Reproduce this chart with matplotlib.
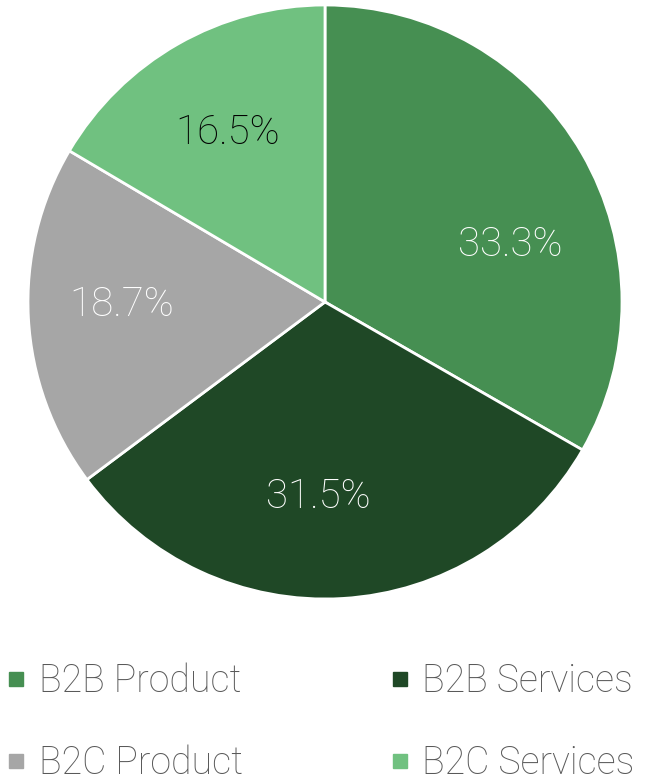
import matplotlib.pyplot as plt
from matplotlib.lines import Line2D

labels = ['B2B Product', 'B2B Services', 'B2C Product', 'B2C Services']
shares = [33.3, 31.5, 18.7, 16.5]
colors = ['#468F52', '#1F4826', '#A6A6A6', '#70C180']
pct_colors = ['white', 'white', 'white', 'black']
# label anchor points (pie-radius units), placed like the original
label_pos = [(0.623, 0.192), (-0.024, -0.657), (-0.684, -0.010), (-0.327, 0.569)]

plt.rcParams['font.family'] = ['Roboto', 'DejaVu Sans']

fig = plt.figure(figsize=(6.46, 7.8), dpi=100)
# pie area: centre (325, 302) px, radius ~297 px
ax = fig.add_axes([(325 - 297) / 646, (780 - 302 - 297) / 780, 594 / 646, 594 / 780])

wedges, texts = ax.pie(
    shares, colors=colors, startangle=90, counterclock=False,
    wedgeprops=dict(edgecolor='white', linewidth=2))
for s, c, (x, y) in zip(shares, pct_colors, label_pos):
    ax.text(x, y, '%.1f%%' % s, color=c, fontsize=29, fontweight='light',
            ha='center', va='center')
ax.set_xlim(-1, 1)
ax.set_ylim(-1, 1)
ax.axis('off')

# legend fills column-wise, so reorder to read row by row
order = [0, 2, 1, 3]
handles = [Line2D([], [], marker='s', linestyle='none', markersize=9.4,
                  markerfacecolor=colors[i], markeredgecolor=colors[i]) for i in order]
leg = fig.legend(handles, [labels[i] for i in order], ncol=2, loc='upper left',
                 bbox_to_anchor=(0.008, 0.151), frameon=False,
                 prop=dict(size=27, weight='light'),
                 borderaxespad=0, borderpad=0,
                 handlelength=0.6, handletextpad=0.3,
                 columnspacing=3.88, labelspacing=1.2)
for t in leg.get_texts():
    t.set_color('#595959')

fig.savefig('out.png', dpi=100)
